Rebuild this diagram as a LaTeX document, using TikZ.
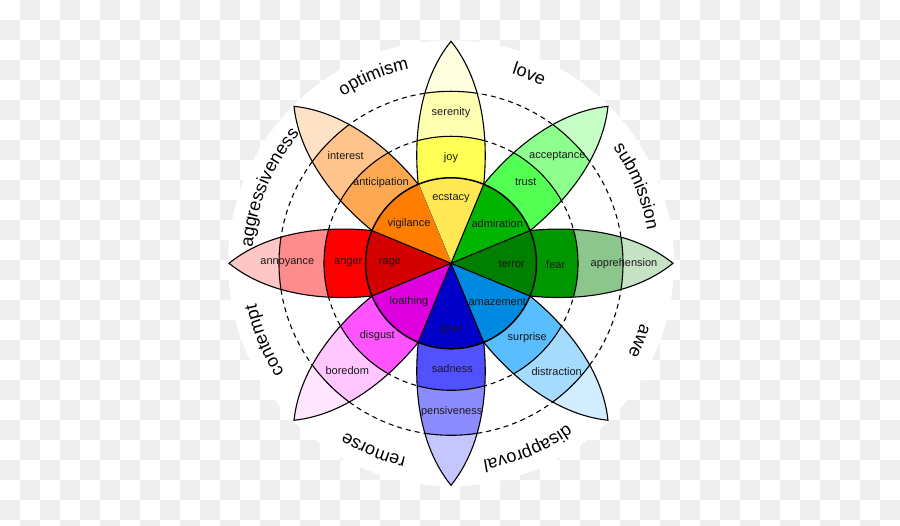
\documentclass[tikz,border=0pt]{standalone}
\usepackage{fontspec}
\setmainfont{Liberation Sans}
\usepackage{tikz}
\usetikzlibrary{decorations.text}
\definecolor{CheckGray}{HTML}{EFEFEF}
\definecolor{EcstacyYellow}{HTML}{FFE854}
\definecolor{JoyYellow}{HTML}{FFFF54}
\definecolor{SerenityYellow}{HTML}{FFFFB1}
\definecolor{PaleYellow}{HTML}{FFFFE0}
\definecolor{AdmirationGreen}{HTML}{00B400}
\definecolor{TrustGreen}{HTML}{54FF54}
\definecolor{AcceptGreen}{HTML}{8CFF8C}
\definecolor{PaleGreen}{HTML}{C6FFC6}
\definecolor{TerrorGreen}{HTML}{007F00}
\definecolor{FearGreen}{HTML}{009600}
\definecolor{ApprehGreen}{HTML}{8CC68C}
\definecolor{PaleSage}{HTML}{C6E3C6}
\definecolor{AmazeBlue}{HTML}{0089E0}
\definecolor{SurpriseBlue}{HTML}{59BDFF}
\definecolor{DistractBlue}{HTML}{A5DBFF}
\definecolor{PaleSky}{HTML}{D2EDFF}
\definecolor{GriefBlue}{HTML}{0000C8}
\definecolor{SadBlue}{HTML}{5151FF}
\definecolor{PensiveBlue}{HTML}{8C8CFF}
\definecolor{PaleBlue}{HTML}{C6C6FF}
\definecolor{LoathMagenta}{HTML}{DE00DE}
\definecolor{DisgustMagenta}{HTML}{FF54FF}
\definecolor{BoredMagenta}{HTML}{FFC6FF}
\definecolor{PaleMagenta}{HTML}{FFE5FF}
\definecolor{RageRed}{HTML}{D40000}
\definecolor{AngerRed}{HTML}{FF0000}
\definecolor{AnnoyRed}{HTML}{FF8C8C}
\definecolor{PaleRed}{HTML}{FFC6C6}
\definecolor{VigilOrange}{HTML}{FF7D00}
\definecolor{AnticipOrange}{HTML}{FFA854}
\definecolor{InterestOrange}{HTML}{FFC48C}
\definecolor{PaleOrange}{HTML}{FFE2C6}
\newcommand{\wheelfont}{\fontsize{18}{20}\selectfont}

\begin{document}
\begin{tikzpicture}[x=1pt,y=1pt,
  emo/.style={font=\fontsize{11}{13}\selectfont,text=black!90,inner sep=0pt},
  band/.style={line width=1.1pt},
  ring/.style={line width=1.1pt,dash pattern=on 5pt off 4pt},
  arclabel/.style={decorate,decoration={text along path,text align=center,text={|\wheelfont|#1}}}]
\useasboundingbox (-451,-262.7) rectangle (449,263.3);
% checker background
\begin{scope}
\clip (-451,-262.7) rectangle (449,263.3);
\foreach \i in {0,...,44}{
  \foreach \j in {0,...,26}{
    \pgfmathtruncatemacro{\odd}{mod(\i+\j,2)}
    \ifnum\odd=1 \fill[CheckGray] (-451+20*\i,243.3-20*\j) rectangle ++(20,20); \fi
  }
}
\end{scope}

% disc and dashed rings
\fill[white] (0,0) circle (223);
\draw[ring] (0,0) circle (127);
\draw[ring] (0,0) circle (172);

% dyads
\path[arclabel=optimism] (142.5:199) arc[start angle=142.5,end angle=82.5,radius=199];
\path[arclabel=love] (97.5:199) arc[start angle=97.5,end angle=37.5,radius=199];
\path[arclabel=submission] (52.5:199) arc[start angle=52.5,end angle=-7.5,radius=199];
\path[arclabel=awe] (7.5:199) arc[start angle=7.5,end angle=-52.5,radius=199];
\path[arclabel=disapproval] (-37.5:199) arc[start angle=-37.5,end angle=-97.5,radius=199];
\path[arclabel=remorse] (-82.5:199) arc[start angle=-82.5,end angle=-142.5,radius=199];
\path[arclabel=contempt] (-127.5:199) arc[start angle=-127.5,end angle=-187.5,radius=199];
\path[arclabel=aggressiveness] (187.5:199) arc[start angle=187.5,end angle=127.5,radius=199];

% petals
\foreach \a/\ca/\cb/\cc/\cd in {
  90/EcstacyYellow/JoyYellow/SerenityYellow/PaleYellow,
  45/AdmirationGreen/TrustGreen/AcceptGreen/PaleGreen,
  0/TerrorGreen/FearGreen/ApprehGreen/PaleSage,
  -45/AmazeBlue/SurpriseBlue/DistractBlue/PaleSky,
  -90/GriefBlue/SadBlue/PensiveBlue/PaleBlue,
  -135/LoathMagenta/DisgustMagenta/BoredMagenta/PaleMagenta,
  180/RageRed/AngerRed/AnnoyRed/PaleRed,
  135/VigilOrange/AnticipOrange/InterestOrange/PaleOrange}{
\begin{scope}[rotate=\a]
  \begin{scope}
    \clip (0,0) -- (-22.5:85.5) .. controls (120,-37) and (180,-34) .. (222,0)
      .. controls (180,34) and (120,37) .. (22.5:85.5) -- cycle;
    \fill[\cd] (0,-40) rectangle (225,40);
    \fill[\cc] (0,0) circle (172);
    \fill[\cb] (0,0) circle (127);
    \fill[\ca] (0,0) circle (85.5);
    \draw[band] (0,0) circle (172) (0,0) circle (127);
  \end{scope}
  \draw[band] (-22.5:85.5) .. controls (120,-37) and (180,-34) .. (222,0)
    .. controls (180,34) and (120,37) .. (22.5:85.5);
  \draw[band] (0,0) -- (22.5:85.5);
\end{scope}
}
\draw[line width=1.5pt] (0,0) circle (85.5);

% emotions
\node[emo] (serenity) at (0,151) {serenity};
\node[emo] (joy) at (0,105.6) {joy};
\node[emo] (ecstacy) at (0,65) {ecstacy};
\node[emo] (interest) at (-105.3,107.6) {interest};
\node[emo] (anticipation) at (-70,81) {anticipation};
\node[emo] (vigilance) at (-42,39.3) {vigilance};
\node[emo] (acceptance) at (106.3,107.6) {acceptance};
\node[emo] (trust) at (74.7,81) {trust};
\node[emo] (admiration) at (46.3,39.3) {admiration};
\node[emo] (annoyance) at (-163.7,1) {annoyance};
\node[emo] (anger) at (-102.7,1) {anger};
\node[emo] (rage) at (-61,1) {rage};
\node[emo] (terror) at (60.7,-1) {terror};
\node[emo] (fear) at (104.7,-1) {fear};
\node[emo] (apprehension) at (173,0) {apprehension};
\node[emo] (loathing) at (-42,-38.4) {loathing};
\node[emo] (disgust) at (-73.7,-72.7) {disgust};
\node[emo] (boredom) at (-103.7,-107.4) {boredom};
\node[emo] (grief) at (0.7,-65.7) {grief};
\node[emo] (sadness) at (1.3,-105) {sadness};
\node[emo] (pensiveness) at (0.7,-148.4) {pensiveness};
\node[emo] (amazement) at (46.3,-39) {amazement};
\node[emo] (surprise) at (76.3,-74) {surprise};
\node[emo] (distraction) at (105.7,-108.4) {distraction};
\end{tikzpicture}
\end{document}
